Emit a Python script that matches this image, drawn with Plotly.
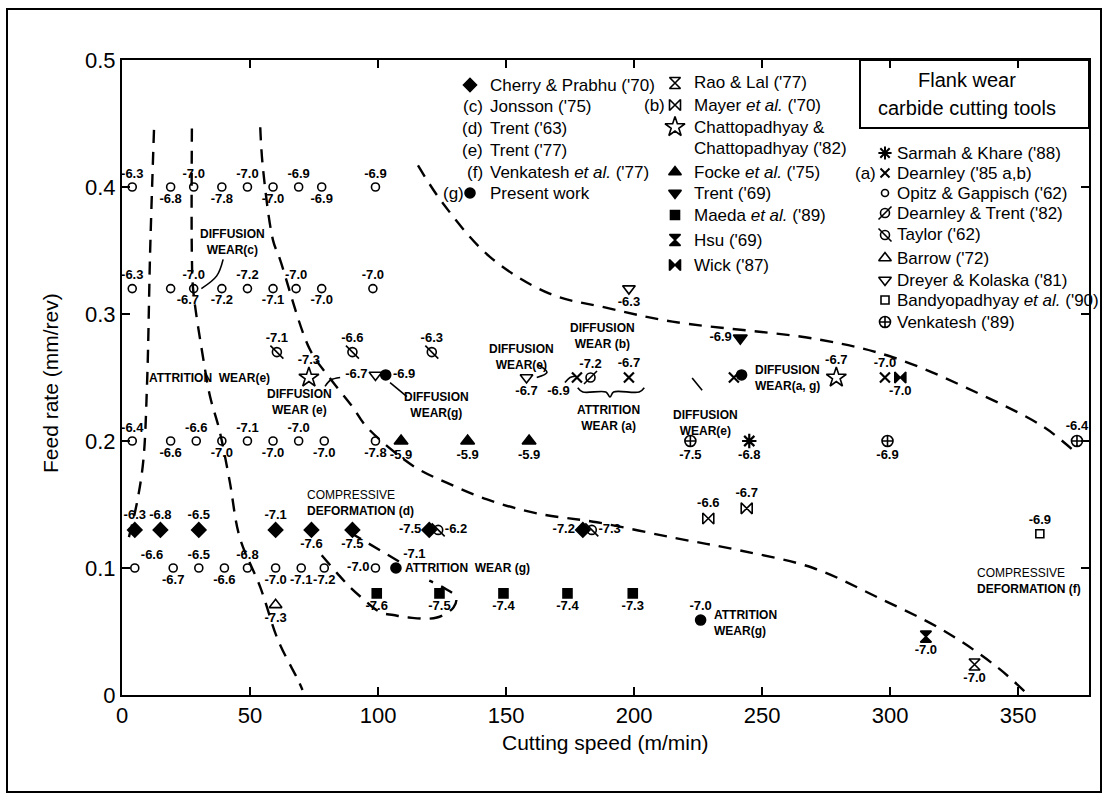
import plotly.graph_objects as go

# ---------------- data ----------------
# Opitz & Gappisch ('62) - open circles
opitz_x = [4, 19, 28, 39, 49, 59, 69, 78, 99,
           4, 19, 28, 39, 49, 59, 68, 78, 98,
           4, 19, 29, 39, 49, 59, 69, 79, 99,
           5, 20, 30, 40, 49, 60, 70, 79, 99]
opitz_y = [0.40, 0.40, 0.40, 0.40, 0.40, 0.40, 0.40, 0.40, 0.40,
           0.32, 0.32, 0.32, 0.32, 0.32, 0.32, 0.32, 0.32, 0.32,
           0.20, 0.20, 0.20, 0.20, 0.20, 0.20, 0.20, 0.20, 0.20,
           0.10, 0.10, 0.10, 0.10, 0.10, 0.10, 0.10, 0.10, 0.10]
opitz_lab = ['-6.3', '-6.8', '-7.0', '-7.8', '-7.0', '-7.0', '-6.9', '-6.9', '-6.9',
             '-6.3', '-6.7', '-7.0', '-7.2', '-7.2', '-7.1', '-7.0', '-7.0', '-7.0',
             '-6.4', '-6.6', '-6.6', '-7.0', '-7.1', '-7.0', '-7.0', '-7.0', '-7.8',
             '-6.6', '-6.7', '-6.5', '-6.6', '-6.8', '-7.0', '-7.1', '-7.2', '-7.0']

# Cherry & Prabhu ('70) - filled diamonds
cherry_x = [5, 15, 30, 60, 74, 90, 120, 180]
cherry_y = [0.13, 0.13, 0.13, 0.13, 0.13, 0.13, 0.13, 0.13]
cherry_lab = ['-6.3', '-6.8', '-6.5', '-7.1', '-7.6', '-7.5', '-7.5', '-7.2']

# Taylor ('62)
taylor_x = [60.5, 90, 121, 123.5, 183.5]
taylor_y = [0.27, 0.27, 0.27, 0.13, 0.13]
taylor_lab = ['-7.1', '-6.6', '-6.3', '-6.2', '-7.3']

# Chattopadhyay & Chattopadhyay ('82) - open stars
chatto_x = [73, 279]
chatto_y = [0.25, 0.25]
chatto_lab = ['-7.3', '-6.7']

# Dreyer & Kolaska ('81) - open down triangles
dreyer_x = [99, 158, 198]
dreyer_y = [0.252, 0.25, 0.32]
dreyer_lab = ['-6.7', '-6.7', '-6.3']

# Present work (g)
present_x = [103, 107, 226, 242]
present_y = [0.252, 0.10, 0.059, 0.252]
present_lab = ['-6.9', '-7.1', '-7.0', '']

# Dearnley ('85 a,b) - crosses
dearn_x = [177.7, 198, 239, 298]
dearn_y = [0.25, 0.25, 0.25, 0.25]
dearn_lab = ['-6.9', '-6.7', '', '-7.0']

# Dearnley & Trent ('82)
dtrent_x = [183]
dtrent_y = [0.25]
dtrent_lab = ['-7.2']

# Trent ('69) - filled down triangle
trent69_x = [241.5]
trent69_y = [0.281]
trent69_lab = ['-6.9']

# Wick ('87) - filled bowtie
wick_x = [304]
wick_y = [0.25]
wick_lab = ['-7.0']

# Venkatesh ('89)
venk_x = [222, 299, 373]
venk_y = [0.20, 0.20, 0.20]
venk_lab = ['-7.5', '-6.9', '-6.4']

# Sarmah & Khare ('88)
sarmah_x = [245]
sarmah_y = [0.20]
sarmah_lab = ['-6.8']

# Focke et al. ('75) - filled triangles
focke_x = [109, 135, 159]
focke_y = [0.20, 0.20, 0.20]
focke_lab = ['-5.9', '-5.9', '-5.9']

# Mayer et al. ('70) - open bowties
mayer_x = [229, 244]
mayer_y = [0.139, 0.147]
mayer_lab = ['-6.6', '-6.7']

# Maeda et al. ('89) - filled squares
maeda_x = [99.5, 124, 149, 174, 199.5]
maeda_y = [0.08, 0.08, 0.08, 0.08, 0.08]
maeda_lab = ['-7.6', '-7.5', '-7.4', '-7.4', '-7.3']

# Barrow ('72)
barrow_x = [60]
barrow_y = [0.071]
barrow_lab = ['-7.3']

# Rao & Lal ('77)
rao_x = [333]
rao_y = [0.024]
rao_lab = ['-7.0']

# Hsu ('69)
hsu_x = [314]
hsu_y = [0.046]
hsu_lab = ['-7.0']

# Bandyopadhyay et al. ('90)
bandyo_x = [358.5]
bandyo_y = [0.127]
bandyo_lab = ['-6.9']

# dashed regime boundaries
curve1_x = [12.5, 11, 9.8, 8.3, 5.8, 2.4]
curve1_y = [0.445, 0.35, 0.246, 0.184, 0.151, 0.122]
curve2_x = [27.3, 27.3, 27.8, 31.8, 34.4, 38, 42, 46, 54, 61, 68.7, 70.5]
curve2_y = [0.446, 0.345, 0.319, 0.264, 0.235, 0.209, 0.169, 0.124, 0.085, 0.043, 0.012, 0.004]
curve3_x = [54, 55, 59, 61.7, 73.4, 81, 90, 95.6, 114, 127, 142.6, 162, 185.5, 215, 241,
            270, 295, 320.7, 341.8, 354]
curve3_y = [0.447, 0.416, 0.358, 0.343, 0.272, 0.25, 0.227, 0.211, 0.18, 0.167, 0.154, 0.143,
            0.136, 0.124, 0.114, 0.1, 0.077, 0.051, 0.022, 0.0]
curve4_x = [115.6, 125.4, 143.7, 167, 189, 215, 272, 301, 334, 360, 373]
curve4_y = [0.417, 0.387, 0.345, 0.316, 0.305, 0.294, 0.28, 0.266, 0.238, 0.211, 0.19]
curve5_x = [78, 84, 89, 94, 101, 106, 112, 123, 129.5, 130.5, 126, 120]
curve5_y = [0.11, 0.096, 0.085, 0.076, 0.065, 0.063, 0.061, 0.061, 0.069, 0.077, 0.084, 0.09]
curve6_x = [89, 110]
curve6_y = [0.128, 0.103]

# thin solid connector strokes
conn_c_x = [39.5, 37, 31]
conn_c_y = [0.343, 0.33, 0.32]
conn_g_x = [104.7, 111.3]
conn_g_y = [0.246, 0.235]
conn_e1_x = [79.3, 81.5, 85.2]
conn_e1_y = [0.243, 0.248, 0.25]
conn_e2_x = [162.5, 166, 162]
conn_e2_y = [0.26, 0.254, 0.25]
conn_a_x = [173, 175, 177]
conn_a_y = [0.246, 0.250, 0.251]
conn_e3_x = [222.7, 226.6]
conn_e3_y = [0.2496, 0.240]
brace_x = [178, 180, 189, 190.6, 192, 202, 204]
brace_y = [0.242, 0.2386, 0.2386, 0.2346, 0.2386, 0.2386, 0.242]

x_ticks = [0, 50, 100, 150, 200, 250, 300, 350]
x_ticktext = ['0', '50', '100', '150', '200', '250', '300', '350']
y_ticks = [0, 0.1, 0.2, 0.3, 0.4, 0.5]
y_ticktext = ['0', '0.1', '0.2', '0.3', '0.4', '0.5']

# ---------------- layout constants ----------------
W, H = 1109, 801
L, R, T, B = 122, 20, 60, 106
XMAX = 377.7
NARROW = "Liberation Sans Narrow, Liberation Sans, Arial, sans-serif"
SANS = "Liberation Sans, Arial, Helvetica, sans-serif"
LABEL_SIZE = 13
REGION_SIZE = 12
POS = {'a': 'top center', 'b': 'bottom center', 'l': 'middle left', 'r': 'middle right',
       'ar': 'top right', 'br': 'bottom right', 'bl': 'bottom left', 'al': 'top left', '': 'top center'}


def px_x(p):
    return (p - L) / (W - L - R)


def px_y(p):
    return (H - B - p) / (H - T - B)


fig = go.Figure()


def add_series(x, y, lab, pos, symbol, size, lw=1.6):
    fig.add_trace(go.Scatter(
        x=x, y=y, mode='markers+text', text=lab,
        textposition=[POS[p] for p in pos],
        marker=dict(symbol=symbol, size=size, color='black',
                    line=dict(color='black', width=lw)),
        textfont=dict(family=NARROW, size=LABEL_SIZE, color='black', weight='bold'),
        cliponaxis=False, showlegend=False, hoverinfo='skip'))


def add_overlay(x, y, symbol, size, lw=1.6):
    fig.add_trace(go.Scatter(
        x=x, y=y, mode='markers',
        marker=dict(symbol=symbol, size=size, color='black',
                    line=dict(color='black', width=lw)),
        cliponaxis=False, showlegend=False, hoverinfo='skip'))


def add_line(x, y, dashed=True, width=2.4):
    fig.add_trace(go.Scatter(
        x=x, y=y, mode='lines',
        line=dict(color='black', width=width, dash='13px,9px' if dashed else 'solid',
                  shape='spline', smoothing=1.0),
        showlegend=False, hoverinfo='skip', cliponaxis=True))


# boundaries
for cx, cy in [(curve1_x, curve1_y), (curve2_x, curve2_y), (curve3_x, curve3_y),
               (curve4_x, curve4_y), (curve5_x, curve5_y), (curve6_x, curve6_y)]:
    add_line(cx, cy)
for cx, cy in [(conn_c_x, conn_c_y), (conn_g_x, conn_g_y), (conn_e1_x, conn_e1_y),
               (conn_e2_x, conn_e2_y), (conn_a_x, conn_a_y), (conn_e3_x, conn_e3_y),
               (brace_x, brace_y)]:
    add_line(cx, cy, dashed=False, width=1.6)

# data series
opitz_pos = ['a', 'b', 'a', 'b', 'a', 'b', 'a', 'b', 'a',
             'a', 'br', 'a', 'b', 'a', 'b', 'a', 'b', 'a',
             'a', 'b', 'a', 'b', 'a', 'b', 'a', 'b', 'b',
             'ar', 'b', 'a', 'b', 'a', 'b', 'b', 'b', 'l']
add_series(opitz_x, opitz_y, opitz_lab, opitz_pos, 'circle-open', 8)
add_series(cherry_x, cherry_y, cherry_lab, ['a', 'a', 'a', 'a', 'b', 'b', 'l', 'l'], 'diamond', 11)
add_series(taylor_x, taylor_y, taylor_lab, ['a', 'a', 'a', 'r', 'r'], 'circle-open', 9)
add_overlay(taylor_x, taylor_y, 'line-nw-open', 13)
add_series(chatto_x, chatto_y, chatto_lab, ['a', 'a'], 'star-open', 15)
add_series(dreyer_x, dreyer_y, dreyer_lab, ['l', 'b', 'b'], 'triangle-down-open', 11)
add_series(present_x, present_y, present_lab, ['r', 'ar', 'a', ''], 'circle', 10)
add_series(dearn_x, dearn_y, dearn_lab, ['bl', 'a', '', 'a'], 'x-thin-open', 10, lw=2.2)
add_series(dtrent_x, dtrent_y, dtrent_lab, ['a'], 'circle-open', 9)
add_overlay(dtrent_x, dtrent_y, 'line-ne-open', 13)
add_series(trent69_x, trent69_y, trent69_lab, ['l'], 'triangle-down', 12)
add_series(wick_x, wick_y, wick_lab, ['b'], 'bowtie', 11)
add_series(venk_x, venk_y, venk_lab, ['b', 'b', 'a'], 'circle-cross-open', 11)
add_series(sarmah_x, sarmah_y, sarmah_lab, ['b'], 'asterisk-open', 12, lw=2.2)
add_series(focke_x, focke_y, focke_lab, ['b', 'b', 'b'], 'triangle-up', 12)
add_series(mayer_x, mayer_y, mayer_lab, ['a', 'a'], 'bowtie-open', 11)
add_series(maeda_x, maeda_y, maeda_lab, ['b', 'b', 'b', 'b', 'b'], 'square', 9)
add_series(barrow_x, barrow_y, barrow_lab, ['b'], 'triangle-up-open', 11)
add_series(rao_x, rao_y, rao_lab, ['b'], 'hourglass-open', 11)
add_series(hsu_x, hsu_y, hsu_lab, ['b'], 'hourglass', 11)
add_series(bandyo_x, bandyo_y, bandyo_lab, ['a'], 'square-open', 8)

# ---------------- region labels ----------------
regions = [
    ("<b>DIFFUSION<br>WEAR(c)</b>", 43, 0.357, 'center'),
    ("<b>ATTRITION  WEAR(e)</b>", 34, 0.25, 'center'),
    ("<b>DIFFUSION<br>WEAR (e)</b>", 69.5, 0.231, 'center'),
    ("<b>DIFFUSION<br>WEAR(g)</b>", 123, 0.228, 'center'),
    ("<b>DIFFUSION<br>WEAR(e)</b>", 156, 0.266, 'center'),
    ("<b>DIFFUSION<br>WEAR (b)</b>", 187.5, 0.283, 'center'),
    ("<b>ATTRITION<br>WEAR (a)</b>", 190, 0.218, 'center'),
    ("<b>DIFFUSION<br>WEAR(e)</b>", 228, 0.214, 'center'),
    ("<b>DIFFUSION<br>WEAR(a, g)</b>", 246.5, 0.25, 'left'),
    ("COMPRESSIVE<br><b>DEFORMATION (d)</b>", 71.5, 0.151, 'left'),
    ("<b>ATTRITION  WEAR (g)</b>", 109.8, 0.10, 'left'),
    ("<b>ATTRITION<br>WEAR(g)</b>", 230.5, 0.057, 'left'),
    ("COMPRESSIVE<br><b>DEFORMATION (f)</b>", 333, 0.09, 'left'),
]
ann = []
for txt, x, y, al in regions:
    ann.append(dict(text=txt, x=x, y=y, xref='x', yref='y', showarrow=False,
                    xanchor=al, yanchor='middle', align=al,
                    font=dict(family=NARROW, size=REGION_SIZE, color='black')))

# ---------------- custom legend ----------------
LEG_FONT = dict(family=SANS, size=17, color='black')
legend_cols = [
    # (marker px x, text px x, prefix right px x, items)
    (470, 488, 484, [
        ('', 'diamond', "Cherry & Prabhu ('70)", 85),
        ('(c)', None, "Jonsson ('75)", 107),
        ('(d)', None, "Trent ('63)", 128),
        ('(e)', None, "Trent ('77)", 150),
        ('(f)', None, "Venkatesh <i>et al.</i> ('77)", 172),
        ('(g)', 'circle', "Present work", 193),
    ]),
    (675, 692, 667, [
        ('', 'hourglass-open', "Rao & Lal ('77)", 83),
        ('(b)', 'bowtie-open', "Mayer <i>et al.</i> ('70)", 105),
        ('', 'star-open', "Chattopadhyay &", 127),
        ('', None, "Chattopadhyay ('82)", 148),
        ('', 'triangle-up', "Focke <i>et al.</i> ('75)", 172),
        ('', 'triangle-down', "Trent ('69)", 193),
        ('', 'square', "Maeda <i>et al.</i> ('89)", 215),
        ('', 'hourglass', "Hsu ('69)", 240),
        ('', 'bowtie', "Wick ('87)", 265),
    ]),
    (885, 895, 878, [
        ('', 'asterisk-open', "Sarmah & Khare ('88)", 153),
        ('(a)', 'x-thin-open', "Dearnley ('85 a,b)", 173),
        ('', 'circle-open', "Opitz & Gappisch ('62)", 193),
        ('', 'dtrent', "Dearnley & Trent ('82)", 213),
        ('', 'taylor', "Taylor ('62)", 235),
        ('', 'triangle-up-open', "Barrow ('72)", 258),
        ('', 'triangle-down-open', "Dreyer & Kolaska ('81)", 280),
        ('', 'square-open', "Bandyopadhyay <i>et al.</i> ('90)", 300),
        ('', 'circle-cross-open', "Venkatesh ('89)", 322),
    ]),
]
for mx, tx, prx, items in legend_cols:
    for pre, sym, txt, py in items:
        ann.append(dict(text=txt, x=px_x(tx), y=px_y(py), xref='paper', yref='paper',
                        showarrow=False, xanchor='left', yanchor='middle', font=LEG_FONT))
        if pre:
            prx_use = prx if sym is not None else tx - 3
            if pre == '(g)':
                prx_use = 466
            ann.append(dict(text=pre, x=px_x(prx_use), y=px_y(py), xref='paper', yref='paper',
                            showarrow=False, xanchor='right', yanchor='middle', font=LEG_FONT))
        if sym is None:
            continue
        if sym == 'dtrent':
            syms = [('circle-open', 9), ('line-ne-open', 13)]
        elif sym == 'taylor':
            syms = [('circle-open', 9), ('line-nw-open', 13)]
        else:
            size = {'diamond': 10, 'circle': 10, 'star-open': 15, 'square': 9,
                    'x-thin-open': 9, 'circle-open': 7, 'square-open': 8,
                    'asterisk-open': 11}.get(sym, 11)
            syms = [(sym, size)]
        for s, sz in syms:
            fig.add_trace(go.Scatter(
                x=[px_x(mx)], y=[px_y(py)], xaxis='x2', yaxis='y2', mode='markers',
                marker=dict(symbol=s, size=sz, color='black',
                            line=dict(color='black', width=2.0 if 'thin' in s or 'asterisk' in s else 1.6)),
                showlegend=False, hoverinfo='skip', cliponaxis=False))

# title box
ann.append(dict(text="Flank wear", x=px_x(967), y=px_y(80), xref='paper', yref='paper',
                showarrow=False, xanchor='center', yanchor='middle',
                font=dict(family=SANS, size=20, color='black')))
ann.append(dict(text="carbide cutting tools", x=px_x(967), y=px_y(108), xref='paper', yref='paper',
                showarrow=False, xanchor='center', yanchor='middle',
                font=dict(family=SANS, size=20, color='black')))

# axis titles
ann.append(dict(text="Cutting speed (m/min)", x=0.5, y=px_y(742), xref='paper', yref='paper',
                showarrow=False, xanchor='center', yanchor='middle',
                font=dict(family=SANS, size=21, color='black')))
ann.append(dict(text="Feed rate (mm/rev)", x=px_x(50), y=px_y(383), xref='paper', yref='paper',
                showarrow=False, xanchor='center', yanchor='middle', textangle=-90,
                font=dict(family=SANS, size=21, color='black')))

shapes = [
    dict(type='rect', xref='paper', yref='paper', x0=px_x(860), x1=1.0, y0=px_y(128), y1=1.0,
         line=dict(color='black', width=2)),
    dict(type='rect', xref='paper', yref='paper', x0=px_x(7), x1=px_x(1101), y0=px_y(792),
         y1=px_y(9), line=dict(color='black', width=2)),
]

axis_common = dict(showline=True, linecolor='black', linewidth=2, mirror='ticks',
                   ticks='inside', ticklen=8, tickwidth=2, tickcolor='black',
                   showgrid=False, zeroline=False,
                   tickfont=dict(family=SANS, size=22, color='black'))

fig.update_layout(
    width=W, height=H,
    margin=dict(l=L, r=R, t=T, b=B),
    paper_bgcolor='white', plot_bgcolor='white',
    xaxis=dict(range=[0, XMAX], tickvals=x_ticks, ticktext=x_ticktext, **axis_common),
    yaxis=dict(range=[0, 0.5], tickvals=y_ticks, ticktext=y_ticktext, **axis_common),
    xaxis2=dict(range=[0, 1], overlaying='x', visible=False),
    yaxis2=dict(range=[0, 1], overlaying='y', visible=False),
    annotations=ann,
    shapes=shapes,
    showlegend=False,
)

fig.write_html("out.html")
